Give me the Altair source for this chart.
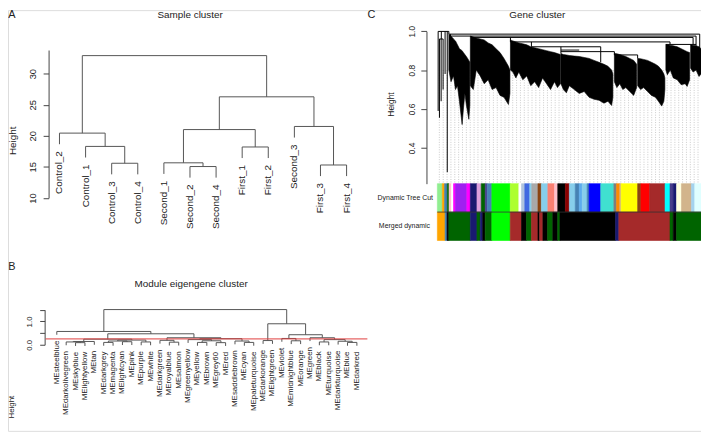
import altair as alt
import pandas as pd

FONT = "Liberation Sans"

# ---------------- Panel A : sample cluster (hclust merge table, leaves in plot order) ----
a_labels = ["Control_2", "Control_1", "Control_3", "Control_4", "Second_1", "Second_2",
            "Second_4", "First_1", "First_2", "Second_3", "First_3", "First_4"]
a_merge_left = [-6, -11, -3, -5, -8, -2, -1, 4, -10, 8, 7]
a_merge_right = [-7, -12, -4, 1, -9, 3, 6, 5, 2, 9, 10]
a_heights = [15.05, 15.3, 15.58, 15.65, 18.2, 18.29, 20.43, 21.0, 21.5, 26.27, 32.9]
a_ticks = [10, 15, 20, 25, 30]

# ---------------- Panel B : module eigengene cluster ----------------
b_labels = ["MEsteelblue", "MEdarkolivegreen", "MEskyblue", "MElightyellow", "MEtan",
            "MEdarkgrey", "MEmagenta", "MElightcyan", "MEpink", "MEpurple", "MEwhite",
            "MEdarkgreen", "MEroyalblue", "MEsalmon", "MEgreenyellow", "MEyellow", "MEbrown",
            "MEgrey60", "MEred", "MEsaddlebrown", "MEcyan", "MEpaleturquoise", "MEdarkorange",
            "MElightgreen", "MEviolet", "MEmidnightblue", "MEorange", "MEgreen", "MEblack",
            "MEturquoise", "MEdarkturquoise", "MEblue", "MEdarkred"]
b_merge_left = [-3, -2, 2, -6, -8, 4, -10, 6, 3, -13, -12, -16, -18, 12, -15, -21, -20, 15,
                11, 9, -1, -23, -26, -25, -29, -32, -31, 25, -28, 24, 22, 21]
b_merge_right = [-4, 1, -5, -7, -9, 5, -11, 7, 8, -14, 10, -17, -19, 13, 14, -22, 16, 17,
                 18, 19, 20, -24, -27, 23, -30, -33, 26, 27, 28, 29, 30, 31]
b_heights = [0.09, 0.12, 0.14, 0.10, 0.13, 0.16, 0.12, 0.20, 0.24, 0.11, 0.19, 0.10, 0.09,
             0.17, 0.22, 0.10, 0.16, 0.26, 0.30, 0.47, 0.57, 0.18, 0.17, 0.27, 0.12, 0.10,
             0.15, 0.22, 0.30, 0.43, 0.90, 1.51]
b_ticks = [0, 0.5, 1.0, 1.5]
b_cut = 0.25

# ---------------- Panel C : gene cluster (gene order index 0..2666) ----------------
n_genes = 2666
c_ticks = [0.4, 0.6, 0.8, 1.0]
c_guide_top = 0.80
c_floor = 0.216
gene_clusters = {
    "K2": ([116, 138, 163, 183, 203, 223, 250, 263, 278, 293, 318, 328],
           [0.985, 0.975, 0.96, 0.95, 0.93, 0.91, 0.90, 0.89, 0.88, 0.87, 0.85, 0.84],
           [0.80, 0.74, 0.77, 0.70, 0.72, 0.64, 0.52, 0.60, 0.68, 0.62, 0.547, 0.62]),
    "K3": ([333, 363, 393, 433, 473, 513, 553, 593, 633, 673, 718, 733],
           [0.975, 0.97, 0.965, 0.96, 0.955, 0.94, 0.93, 0.91, 0.89, 0.86, 0.82, 0.80],
           [0.72, 0.70, 0.80, 0.77, 0.73, 0.75, 0.70, 0.71, 0.67, 0.66, 0.623, 0.68]),
    "K4": ([738, 763, 793, 823, 863, 903, 943, 983, 1023, 1063, 1103, 1143, 1183, 1213, 1243],
           [0.955, 0.95, 0.945, 0.94, 0.935, 0.93, 0.92, 0.915, 0.91, 0.905, 0.90, 0.895, 0.89, 0.885, 0.88],
           [0.80, 0.79, 0.76, 0.79, 0.75, 0.77, 0.72, 0.74, 0.71, 0.76, 0.73, 0.70, 0.74, 0.71, 0.73]),
    "K5": ([1248, 1273, 1303, 1333, 1383, 1433, 1483, 1533, 1583, 1633, 1683, 1723, 1760, 1773],
           [0.885, 0.88, 0.878, 0.875, 0.872, 0.87, 0.865, 0.86, 0.85, 0.84, 0.83, 0.82, 0.80, 0.78],
           [0.73, 0.70, 0.683, 0.72, 0.70, 0.68, 0.69, 0.66, 0.65, 0.645, 0.63, 0.64, 0.618, 0.66]),
    "K6": ([1788, 1813, 1843, 1873, 1903, 1943, 1983, 2013],
           [0.886, 0.884, 0.88, 0.875, 0.87, 0.86, 0.85, 0.83],
           [0.74, 0.71, 0.73, 0.70, 0.71, 0.69, 0.67, 0.71]),
    "K7": ([2023, 2053, 2083, 2123, 2163, 2203, 2233, 2266, 2288, 2298],
           [0.86, 0.858, 0.855, 0.85, 0.84, 0.83, 0.82, 0.80, 0.78, 0.76],
           [0.72, 0.70, 0.71, 0.69, 0.67, 0.66, 0.64, 0.615, 0.64, 0.70]),
    "K8": ([2308, 2323, 2353, 2383, 2423, 2463, 2503, 2523, 2548],
           [0.932, 0.93, 0.928, 0.925, 0.92, 0.91, 0.90, 0.895, 0.89],
           [0.80, 0.776, 0.80, 0.76, 0.75, 0.725, 0.73, 0.716, 0.75]),
    "K9": ([2558, 2583, 2613, 2643, 2663],
           [0.93, 0.928, 0.925, 0.92, 0.91],
           [0.81, 0.79, 0.80, 0.767, 0.78]),
}
c_hline_start = [8, 21, 116, 133, 343, 738, 2308, 950, 1248, 1788, 1248]
c_hline_end = [116, 58, 2650, 2613, 2583, 2350, 2613, 1650, 1788, 2023, 1433]
c_hline_h = [0.999, 0.96, 0.985, 0.975, 0.968, 0.945, 0.932, 0.92, 0.895, 0.878, 0.903]
c_vline_pos = [8, 21, 38, 40, 58, 78, 100, 116, 133, 343, 738, 950, 1248, 1650, 1788,
               2023, 2350, 2583, 2613, 2650]
c_vline_top = [0.999, 0.96, 0.96, 0.999, 0.96, 0.999, 0.999, 0.999, 0.985, 0.975, 0.968,
               0.945, 0.92, 0.92, 0.895, 0.878, 0.945, 0.968, 0.975, 0.985]
c_vline_bot = [0.59, 0.555, 0.64, 0.96, 0.70, 0.78, 0.275, 0.985, 0.975, 0.968, 0.945,
               0.92, 0.885, 0.84, 0.878, 0.86, 0.932, 0.932, 0.925, 0.845]

dtc_starts = [0, 50, 73, 100, 118, 143, 163, 183, 298, 333, 400, 443, 483, 503, 550, 736,
              823, 850, 883, 933, 953, 1016, 1050, 1116, 1183, 1216, 1293, 1333, 1393, 1433,
              1463, 1513, 1533, 1650, 1783, 1810, 1843, 1856, 2023, 2056, 2143, 2300, 2350,
              2383, 2416, 2466, 2566, 2600]
dtc_colors = ["#90EE90", "#FFA500", "#4682B4", "#006400", "#FFC0CB", "#FFFFFF", "#FF00FF",
              "#A020F0", "#FF00FF", "#191970", "#DDA0DD", "#006400", "#483D8B", "#4682B4",
              "#00FF00", "#ADFF2F", "#FFFFFF", "#B0C4DE", "#4169E1", "#87CEEB", "#A9A9A9",
              "#8B4513", "#87CEEB", "#FA8072", "#FFC0CB", "#000000", "#8B0000", "#87CEEB",
              "#4682B4", "#5CACEE", "#87CEEB", "#4682B4", "#0000FF", "#40E0D0", "#7F7F7F",
              "#FF8C00", "#D2B48C", "#FFFF00", "#8B4513", "#FF0000", "#A52A2A", "#00FFFF",
              "#483D8B", "#191970", "#FFFFE0", "#D2B48C", "#A4D3EE", "#E0FFFF"]
md_starts = [0, 78, 98, 116, 333, 400, 433, 458, 483, 550, 736, 850, 900, 950, 1016, 1033,
             1066, 1113, 1166, 1216, 1238, 1800, 1833, 2350, 2383, 2416]
md_colors = ["#FFA500", "#4682B4", "#000000", "#006400", "#191970", "#006400", "#191970",
             "#000000", "#006400", "#00FF00", "#A52A2A", "#000000", "#006400", "#A52A2A",
             "#000000", "#A52A2A", "#000000", "#006400", "#000000", "#006400", "#000000",
             "#191970", "#A52A2A", "#006400", "#000000", "#006400"]
row_names = ["Dynamic Tree Cut", "Merged dynamic"]


# ---------------- helpers ----------------
def dendro(mleft, mright, heights, hang):
    node, segs, leaves = {}, [], []
    for k, (l, r, h) in enumerate(zip(mleft, mright, heights), start=1):
        xs = []
        for c in (l, r):
            if c < 0:
                x, bot = -c - 1, h - hang
                leaves.append({"pos": x, "bottom": bot})
            else:
                x, bot = node[c]
            segs.append({"x": x, "x2": x, "y": h, "y2": bot})
            xs.append(x)
        segs.append({"x": xs[0], "x2": xs[1], "y": h, "y2": h})
        node[k] = ((xs[0] + xs[1]) / 2, h)
    return pd.DataFrame(segs), pd.DataFrame(leaves).sort_values("pos")


def axis_left(offset, values, tick, pad, size, fmt=None, expr=None):
    kw = dict(orient="left", offset=offset, values=values, tickSize=tick, labelPadding=pad,
              labelAngle=270, labelAlign="center", labelBaseline="middle", labelFontSize=size,
              labelFont=FONT, labelColor="#222222", domainColor="#444444", tickColor="#444444",
              grid=False, title=None, labelOverlap=False, labelFlush=False)
    if fmt:
        kw["format"] = fmt
    if expr:
        kw["labelExpr"] = expr
    return alt.Axis(**kw)


# ---------------- Panel A ----------------
hangA = 0.1 * (max(a_heights) - min(a_heights))
segA, leafA = dendro(a_merge_left, a_merge_right, a_heights, hangA)
leafA["label"] = [a_labels[i] for i in leafA["pos"]]
xA = alt.Scale(domain=[0, len(a_labels) - 1], range=[52, 342], nice=False, zero=False)
yA = alt.Scale(domain=[10, 33.8], range=[189.7, 40.3], nice=False, zero=False)
axA = axis_left(-41, a_ticks, 5.5, 11.2, 9.5, fmt="d")

A_lines = alt.Chart(segA).mark_rule(color="#555555", strokeWidth=1).encode(
    x=alt.X("x:Q", scale=xA, axis=None), x2="x2:Q",
    y=alt.Y("y:Q", scale=yA, axis=axA, title=None), y2="y2:Q")
A_text = alt.Chart(leafA).mark_text(angle=270, align="right", baseline="middle", dx=-7,
                                    fontSize=10, font=FONT, color="#222222").encode(
    x=alt.X("pos:Q", scale=xA, axis=None),
    y=alt.Y("bottom:Q", scale=yA, axis=axA, title=None), text="label:N")
A = alt.layer(A_lines, A_text)

# ---------------- Panel B ----------------
hangB = 0.1 * (max(b_heights) - min(b_heights))
segB, leafB = dendro(b_merge_left, b_merge_right, b_heights, hangB)
leafB["label"] = [b_labels[i] for i in leafB["pos"]]
xB = alt.Scale(domain=[0, len(b_labels) - 1], range=[49.3, 352.4], nice=False, zero=False)
yB = alt.Scale(domain=[0, 1.5], range=[338, 302.7], nice=False, zero=False)
axB = axis_left(-37, b_ticks, 5, 10.3, 8,
                expr="datum.value == 0 ? '0.0' : (datum.value == 1 ? '1.0' : '')")

B_lines = alt.Chart(segB).mark_rule(color="#555555", strokeWidth=1).encode(
    x=alt.X("x:Q", scale=xB, axis=None), x2="x2:Q",
    y=alt.Y("y:Q", scale=yB, axis=axB, title=None), y2="y2:Q")
B_cut = alt.Chart(pd.DataFrame({"h": [b_cut]})).mark_rule(color="#E03C3C", strokeWidth=1).encode(
    y=alt.Y("h:Q", scale=yB, axis=axB, title=None), x=alt.value(38), x2=alt.value(363))
B_text = alt.Chart(leafB).mark_text(angle=270, align="right", baseline="middle", dx=-6,
                                    fontSize=8, font=FONT, color="#222222").encode(
    x=alt.X("pos:Q", scale=xB, axis=None),
    y=alt.Y("bottom:Q", scale=yB, axis=axB, title=None), text="label:N")
B = alt.layer(B_lines, B_cut, B_text)

# ---------------- Panel C : dendrogram ----------------
xC = alt.Scale(domain=[0, n_genes], range=[433.7, 700.3], nice=False, zero=False)
yC = alt.Scale(domain=[c_floor, 1.0], range=[175.3, 21.3], nice=False, zero=False)
axC = axis_left(-422.7, c_ticks, 5.7, 9.3, 8.5, fmt=".1f")

poly_rows = []
for name, (ps, ts, bs) in gene_clusters.items():
    for p, t, b in zip(ps, ts, bs):
        poly_rows.append({"cluster": name, "pos": p, "top": t, "bot": b})
polyC = pd.DataFrame(poly_rows)
hC = pd.DataFrame({"x": c_hline_start, "x2": c_hline_end, "y": c_hline_h, "y2": c_hline_h})
vC = pd.DataFrame({"x": c_vline_pos, "x2": c_vline_pos, "y": c_vline_top, "y2": c_vline_bot})
segC = pd.concat([hC, vC], ignore_index=True)

C_guides = alt.Chart(alt.sequence(20, n_genes, 39, as_="g")).transform_calculate(
    gt=str(c_guide_top), gb=str(c_floor)).mark_rule(
    color="#BDBDBD", strokeWidth=0.8, strokeDash=[1, 1.5]).encode(
    x=alt.X("g:Q", scale=xC, axis=None),
    y=alt.Y("gt:Q", scale=yC, axis=axC, title=None), y2="gb:Q")
C_poly = alt.Chart(polyC).mark_area(color="black", stroke="black", strokeWidth=0.6).encode(
    x=alt.X("pos:Q", scale=xC, axis=None),
    y=alt.Y("top:Q", scale=yC, axis=axC, title=None), y2="bot:Q",
    detail="cluster:N")
C_segs = alt.Chart(segC).mark_rule(color="black", strokeWidth=1).encode(
    x=alt.X("x:Q", scale=xC, axis=None), x2="x2:Q",
    y=alt.Y("y:Q", scale=yC, axis=axC, title=None), y2="y2:Q")
Cd = alt.layer(C_guides, C_poly, C_segs)

# ---------------- Panel C : colour rows ----------------
bar_rows = []
for r, (starts, cols) in enumerate([(dtc_starts, dtc_colors), (md_starts, md_colors)]):
    ends = starts[1:] + [n_genes]
    for s, e, c in zip(starts, ends, cols):
        bar_rows.append({"s": s, "e": e, "r0": r, "r1": r + 1, "col": c})
barsC = pd.DataFrame(bar_rows)
yBar = alt.Scale(domain=[0, 2], range=[175.3, 232.7], nice=False, zero=False)
C_bars = alt.Chart(barsC).mark_rect(strokeWidth=0.6).encode(
    x=alt.X("s:Q", scale=xC, axis=None), x2="e:Q",
    y=alt.Y("r0:Q", scale=yBar, axis=None), y2="r1:Q",
    color=alt.Color("col:N", scale=None), stroke=alt.Stroke("col:N", scale=None))
C_sep = alt.Chart(pd.DataFrame({"s": [0], "e": [n_genes], "r": [1]})).mark_rule(
    color="#333333", strokeWidth=0.8).encode(
    x=alt.X("s:Q", scale=xC, axis=None), x2="e:Q",
    y=alt.Y("r:Q", scale=yBar, axis=None))
Cb = alt.layer(C_bars, C_sep)

# ---------------- annotations ----------------
titles = pd.DataFrame({"t": ["Sample cluster", "Module eigengene cluster", "Gene cluster"],
                       "x": [184, 185, 534.7], "y": [5, 277, 5]})
letters = pd.DataFrame({"t": ["A", "B", "C"], "x": [4, 4, 367], "y": [5, 259, 5]})
heights_lab = pd.DataFrame({"t": ["Height", "Height", "Height"], "x": [5, 4.5, 387],
                            "y": [132, 401, 95.3], "s": [10, 8, 8.5]})
rowlab = pd.DataFrame({"t": row_names, "x": [429.3, 426.3], "y": [189.5, 218]})


def txt(df, **kw):
    enc = dict(x=alt.X("x:Q", scale=None, axis=None), y=alt.Y("y:Q", scale=None, axis=None),
               text="t:N")
    if "s" in df.columns:
        enc["size"] = alt.Size("s:Q", scale=None, legend=None)
    return alt.Chart(df).mark_text(font=FONT, color="#222222", **kw).encode(**enc)


T1 = txt(titles, fontSize=10, align="center", baseline="middle")
T2 = txt(letters, fontSize=11, align="center", baseline="middle")
T3 = txt(heights_lab, angle=270, align="center", baseline="middle")
T4 = txt(rowlab, fontSize=7, align="right", baseline="middle")

chart = alt.layer(A, B, Cd, Cb, T1, T2, T3, T4).resolve_scale(
    x="independent", y="independent").properties(
    width=700, height=425, padding=0, autosize=alt.AutoSizeParams(type="none")
).configure_view(stroke=None).configure(background="white", font=FONT)

chart.save("out.html", embed_options={"renderer": "svg", "actions": False})
